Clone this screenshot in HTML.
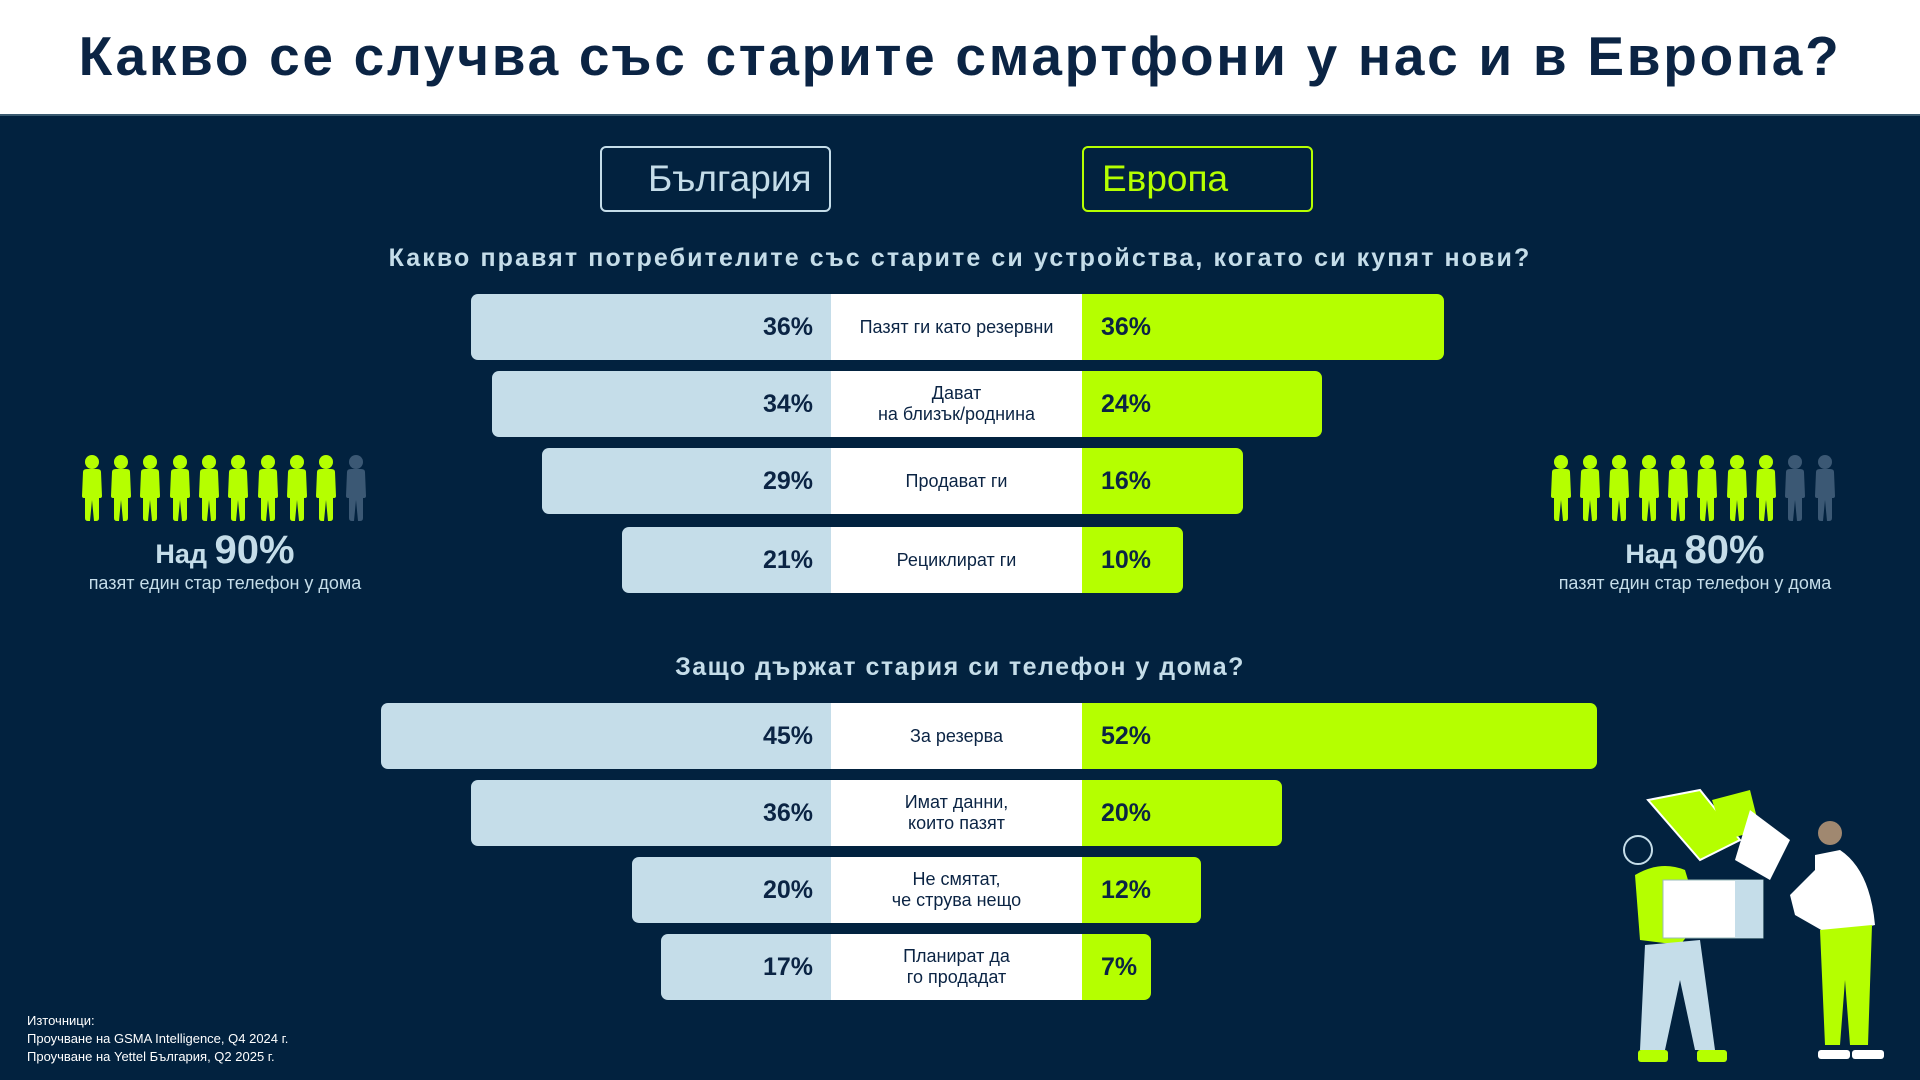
<!DOCTYPE html>
<html><head><meta charset="utf-8"><style>
*{margin:0;padding:0;box-sizing:border-box}
body{width:1920px;height:1080px;background:#02223f;font-family:"Liberation Sans",sans-serif;position:relative;overflow:hidden}
.hdr{position:absolute;left:0;top:0;width:1920px;height:116px;background:#fff;border-bottom:2px solid #3a5a70}
.hdr h1{position:absolute;left:0;width:1920px;top:24px;text-align:center;font-size:55px;font-weight:bold;color:#0b2444;letter-spacing:2.7px}
.ab{position:absolute}
.box{position:absolute;top:146px;height:66px;border-radius:6px;font-size:37px;line-height:62px}
.sub{position:absolute;left:0;width:1920px;text-align:center;font-size:25px;font-weight:bold;color:#c5dde9}
.l{position:absolute;background:#c5dde9;border-radius:7px 0 0 7px;font-size:25px;color:#0b2444;text-align:right;padding-right:18px;font-weight:bold}
.r{position:absolute;background:#b5ff00;border-radius:0 7px 7px 0;font-size:25px;color:#0b2444;padding-left:19px;font-weight:bold}
.c{position:absolute;left:831px;width:251px;background:#fff;color:#0b2444;font-size:18px;text-align:center;display:flex;align-items:center;justify-content:center;line-height:21px}
.big{position:absolute;text-align:center;color:#c5dde9;font-weight:bold}
.src{position:absolute;left:27px;top:1012px;font-size:13px;color:#fff;line-height:18px}
</style></head><body>
<div class="hdr"><h1>Какво се случва със старите смартфони у нас и в Европа?</h1></div>
<div class="box" style="left:600px;width:231px;border:2px solid #c5dde9;color:#c5dde9;padding-left:46px">България</div>
<div class="box" style="left:1082px;width:231px;border:2px solid #b5ff00;color:#b5ff00;padding-left:18px">Европа</div>
<div class="sub" style="top:244px;letter-spacing:2.1px">Какво правят потребителите със старите си устройства, когато си купят нови?</div>

<div class="l" style="left:471px;width:360px;top:294px;height:66px;line-height:66px">36%</div>
<div class="c" style="top:294px;height:66px">Пазят ги като резервни</div>
<div class="r" style="left:1082px;width:362px;top:294px;height:66px;line-height:66px">36%</div>

<div class="l" style="left:492px;width:339px;top:371px;height:66px;line-height:66px">34%</div>
<div class="c" style="top:371px;height:66px">Дават<br>на близък/роднина</div>
<div class="r" style="left:1082px;width:240px;top:371px;height:66px;line-height:66px">24%</div>

<div class="l" style="left:542px;width:289px;top:448px;height:66px;line-height:66px">29%</div>
<div class="c" style="top:448px;height:66px">Продават ги</div>
<div class="r" style="left:1082px;width:161px;top:448px;height:66px;line-height:66px">16%</div>

<div class="l" style="left:622px;width:209px;top:527px;height:66px;line-height:66px">21%</div>
<div class="c" style="top:527px;height:66px">Рециклират ги</div>
<div class="r" style="left:1082px;width:101px;top:527px;height:66px;line-height:66px">10%</div>

<div class="sub" style="top:653px;letter-spacing:1.5px">Защо държат стария си телефон у дома?</div>

<div class="l" style="left:381px;width:450px;top:703px;height:66px;line-height:66px">45%</div>
<div class="c" style="top:703px;height:66px">За резерва</div>
<div class="r" style="left:1082px;width:515px;top:703px;height:66px;line-height:66px">52%</div>

<div class="l" style="left:471px;width:360px;top:780px;height:66px;line-height:66px">36%</div>
<div class="c" style="top:780px;height:66px">Имат данни,<br>които пазят</div>
<div class="r" style="left:1082px;width:200px;top:780px;height:66px;line-height:66px">20%</div>

<div class="l" style="left:632px;width:199px;top:857px;height:66px;line-height:66px">20%</div>
<div class="c" style="top:857px;height:66px">Не смятат,<br>че струва нещо</div>
<div class="r" style="left:1082px;width:119px;top:857px;height:66px;line-height:66px">12%</div>

<div class="l" style="left:661px;width:170px;top:934px;height:66px;line-height:66px">17%</div>
<div class="c" style="top:934px;height:66px">Планират да<br>го продадат</div>
<div class="r" style="left:1082px;width:69px;top:934px;height:66px;line-height:66px">7%</div>

<svg class="ab" style="left:0;top:0" width="1920" height="1080">
<defs><g id="p"><circle cx="12" cy="8" r="7"/><path d="M3 18 Q3 15 7 15 L17 15 Q21 15 21 18 L22 42 Q22 44 20 44 L19 44 L19 64 Q19 67 16 67 L14 67 L12 46 L10 67 L8 67 Q5 67 5 64 L5 44 L4 44 Q2 44 2 42 Z"/></g></defs>
<g fill="#b5ff00">
<use href="#p" x="80" y="454"/><use href="#p" x="109" y="454"/><use href="#p" x="138" y="454"/><use href="#p" x="168" y="454"/><use href="#p" x="197" y="454"/><use href="#p" x="226" y="454"/><use href="#p" x="256" y="454"/><use href="#p" x="285" y="454"/><use href="#p" x="314" y="454"/>
<use href="#p" x="1549" y="454"/><use href="#p" x="1578" y="454"/><use href="#p" x="1607" y="454"/><use href="#p" x="1637" y="454"/><use href="#p" x="1666" y="454"/><use href="#p" x="1695" y="454"/><use href="#p" x="1725" y="454"/><use href="#p" x="1754" y="454"/>
</g>
<g fill="#3b5874"><use href="#p" x="344" y="454"/><use href="#p" x="1783" y="454"/><use href="#p" x="1813" y="454"/></g>
<g>
<path d="M1648 800 L1700 790 L1740 840 L1700 860 Z" fill="#b5ff00" stroke="#fff" stroke-width="2"/>
<path d="M1712 800 L1750 790 L1760 830 L1725 840 Z" fill="#b5ff00"/>
<path d="M1750 810 L1790 840 L1770 880 L1735 860 Z" fill="#fff"/>
<path d="M1635 875 Q1660 860 1685 870 L1700 920 L1680 945 L1640 940 Z" fill="#b5ff00"/>
<rect x="1663" y="880" width="100" height="58" fill="#fff" stroke="#9bb" stroke-width="1"/>
<rect x="1735" y="880" width="28" height="58" fill="#c5dde9"/>
<path d="M1645 945 L1700 940 L1715 1050 L1695 1050 L1680 980 L1665 1050 L1640 1050 Z" fill="#c5dde9"/>
<rect x="1638" y="1050" width="30" height="12" rx="3" fill="#b5ff00"/><rect x="1697" y="1050" width="30" height="12" rx="3" fill="#b5ff00"/>
<circle cx="1638" cy="850" r="14" fill="#02223f" stroke="#c5dde9" stroke-width="2"/>
<circle cx="1830" cy="833" r="12" fill="#a08870"/>
<path d="M1815 855 L1840 850 Q1870 870 1875 925 L1830 935 L1795 915 L1790 895 L1815 870 Z" fill="#fff"/>
<path d="M1820 930 L1872 925 L1868 1045 L1850 1045 L1845 980 L1840 1045 L1825 1045 Z" fill="#b5ff00"/>
<rect x="1818" y="1050" width="32" height="9" rx="3" fill="#fff"/><rect x="1852" y="1050" width="32" height="9" rx="3" fill="#fff"/>
</g>
</svg>

<div class="big" style="left:40px;width:370px;top:528px"><span style="font-size:27px">Над </span><span style="font-size:40px">90%</span></div>
<div class="big" style="left:20px;width:410px;top:573px;font-size:18px;font-weight:normal">пазят един стар телефон у дома</div>
<div class="big" style="left:1510px;width:370px;top:528px"><span style="font-size:27px">Над </span><span style="font-size:40px">80%</span></div>
<div class="big" style="left:1490px;width:410px;top:573px;font-size:18px;font-weight:normal">пазят един стар телефон у дома</div>

<div class="src">Източници:<br>Проучване на GSMA Intelligence, Q4 2024 г.<br>Проучване на Yettel България, Q2 2025 г.</div>
</body></html>
